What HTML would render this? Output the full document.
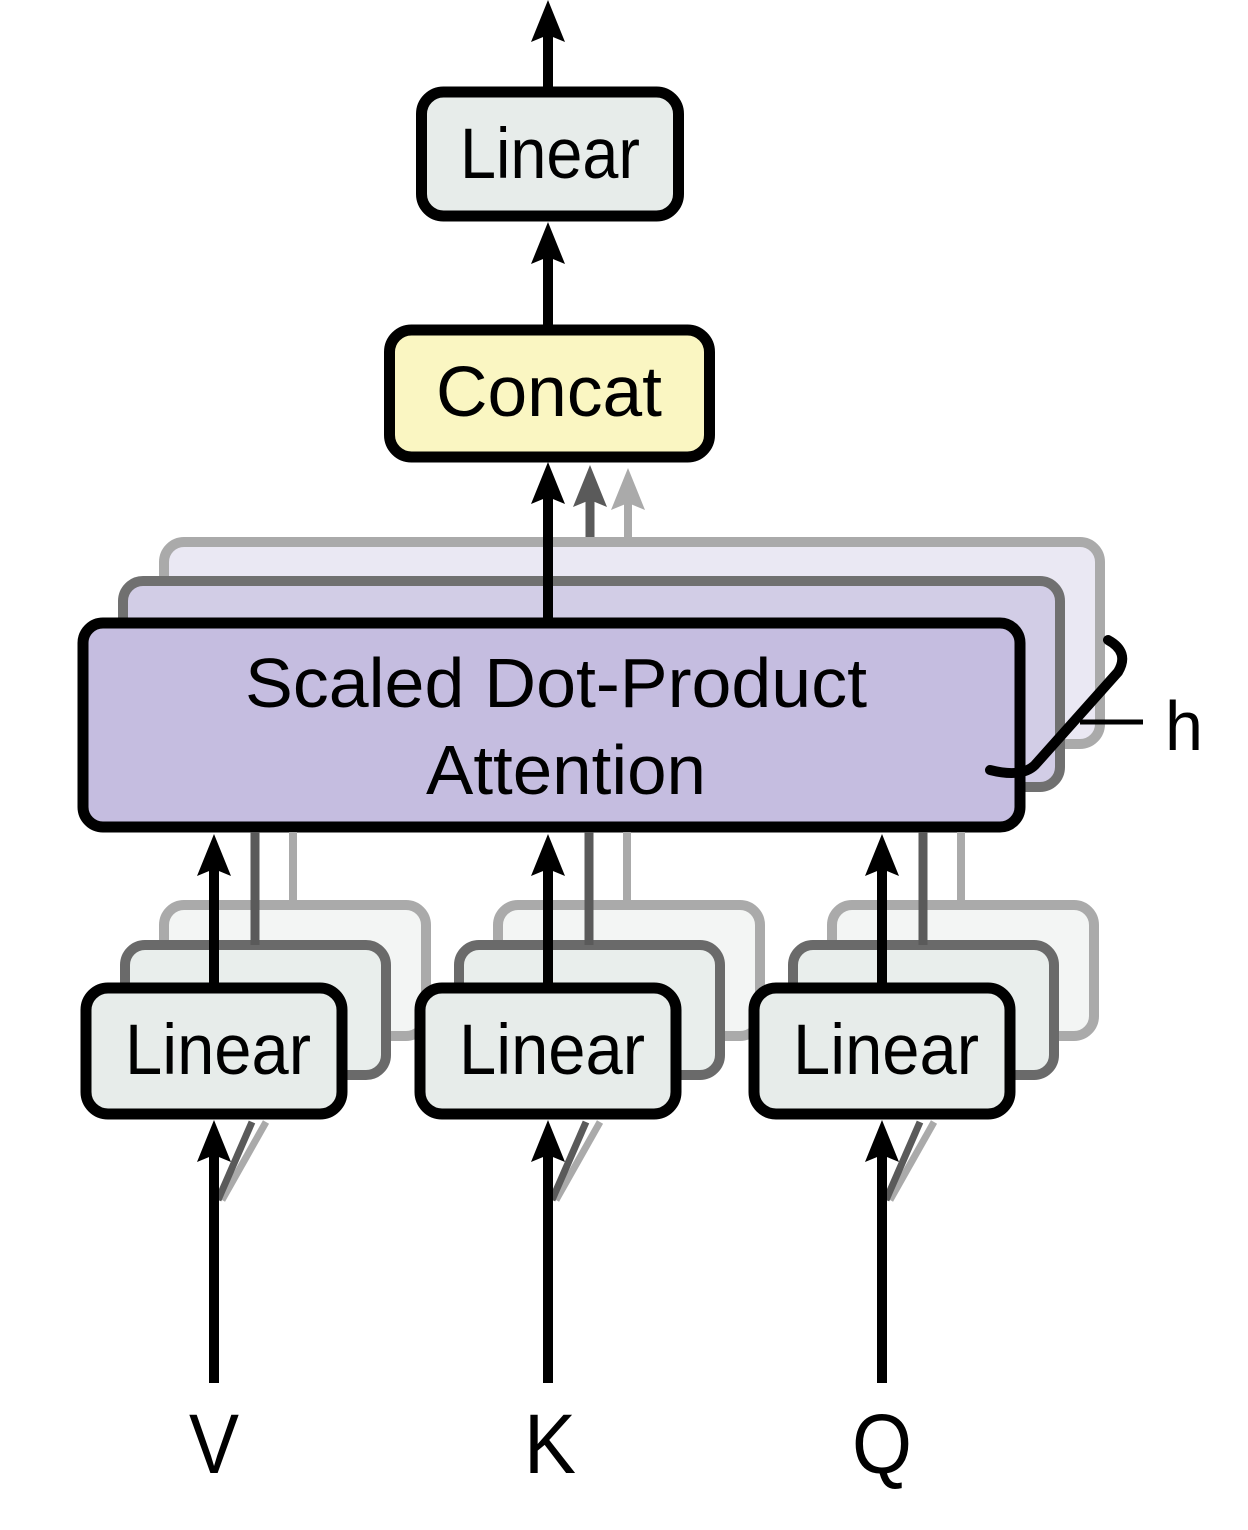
<!DOCTYPE html>
<html><head><style>html,body{margin:0;padding:0;background:#fff}svg{display:block}text{font-family:"Liberation Sans",sans-serif}</style></head>
<body>
<svg width="1248" height="1530" viewBox="0 0 1248 1530" xmlns="http://www.w3.org/2000/svg">
<defs>
<path id="hd" d="M0 0 L17 42 L0 35 L-17 42 Z"/>
</defs>

<!-- top output arrow -->
<line x1="548" y1="90" x2="548" y2="30" stroke="#000" stroke-width="10"/>
<use href="#hd" x="548" y="0" fill="#000"/>
<rect x="421.5" y="92" width="257" height="124" rx="22" fill="#e7ecea" stroke="#000" stroke-width="11"/>
<text x="550" y="178" font-size="71" text-anchor="middle" textLength="180" lengthAdjust="spacingAndGlyphs">Linear</text>

<line x1="548" y1="328" x2="548" y2="250" stroke="#000" stroke-width="10"/>
<use href="#hd" x="548" y="222" fill="#000"/>
<rect x="389.5" y="330" width="320" height="127" rx="22" fill="#faf6c2" stroke="#000" stroke-width="11"/>
<text x="549" y="416" font-size="71" text-anchor="middle" textLength="226" lengthAdjust="spacingAndGlyphs">Concat</text>

<!-- arrows into concat -->
<line x1="628" y1="545" x2="628" y2="495" stroke="#aaa" stroke-width="8"/>
<use href="#hd" x="628" y="468" fill="#aaa"/>
<line x1="590" y1="582" x2="590" y2="492" stroke="#5a5a5a" stroke-width="9"/>
<use href="#hd" x="590" y="465" fill="#5a5a5a"/>

<!-- attention stack -->
<rect x="164" y="542" width="936" height="202" rx="20" fill="#eae8f3" stroke="#aaa" stroke-width="10"/>
<rect x="123" y="581" width="937" height="206" rx="20" fill="#d2cde6" stroke="#707070" stroke-width="10"/>
<line x1="548" y1="622" x2="548" y2="490" stroke="#000" stroke-width="10"/>
<use href="#hd" x="548" y="462" fill="#000"/>
<rect x="83" y="623" width="937" height="204" rx="20" fill="#c5bde0" stroke="#000" stroke-width="11"/>
<text x="556" y="707" font-size="70" text-anchor="middle" textLength="622" lengthAdjust="spacingAndGlyphs">Scaled Dot-Product</text>
<text x="566" y="794" font-size="70" text-anchor="middle" textLength="280" lengthAdjust="spacingAndGlyphs">Attention</text>

<!-- brace -->
<path d="M1108 640 Q1130 652 1118 672 L1035 765 Q1022 778 990 770" fill="none" stroke="#000" stroke-width="10" stroke-linecap="round"/>
<line x1="1080" y1="722" x2="1143" y2="722" stroke="#000" stroke-width="5"/>
<text x="1165" y="750" font-size="70" textLength="38" lengthAdjust="spacingAndGlyphs">h</text>

<!-- linear groups -->
<g id="grp">
<rect x="164" y="905" width="262" height="131" rx="20" fill="#f3f5f4" stroke="#aaa" stroke-width="10"/>
<rect x="125" y="945" width="261" height="130" rx="20" fill="#e9eeec" stroke="#6a6a6a" stroke-width="10"/>
<line x1="293" y1="905" x2="293" y2="832" stroke="#aaa" stroke-width="8"/>
<line x1="255" y1="945" x2="255" y2="832" stroke="#5a5a5a" stroke-width="9"/>
<line x1="214" y1="987" x2="214" y2="862" stroke="#000" stroke-width="10"/>
<use href="#hd" x="214" y="834" fill="#000"/>
<rect x="86" y="988" width="256" height="126" rx="22" fill="#e7ecea" stroke="#000" stroke-width="11"/>
<text x="218" y="1074" font-size="71" text-anchor="middle" textLength="186" lengthAdjust="spacingAndGlyphs">Linear</text>
<line x1="222" y1="1200" x2="266" y2="1122" stroke="#aaa" stroke-width="7"/>
<line x1="218" y1="1200" x2="252" y2="1122" stroke="#5a5a5a" stroke-width="7"/>
<line x1="214" y1="1383" x2="214" y2="1148" stroke="#000" stroke-width="10"/>
<use href="#hd" x="214" y="1120" fill="#000"/>
</g>
<use href="#grp" x="334"/>
<use href="#grp" x="668"/>

<text x="214" y="1473" font-size="84" text-anchor="middle" textLength="50" lengthAdjust="spacingAndGlyphs">V</text>
<text x="550" y="1473" font-size="84" text-anchor="middle" textLength="52" lengthAdjust="spacingAndGlyphs">K</text>
<text x="882" y="1473" font-size="84" text-anchor="middle" textLength="60" lengthAdjust="spacingAndGlyphs">Q</text>
</svg>
</body></html>
